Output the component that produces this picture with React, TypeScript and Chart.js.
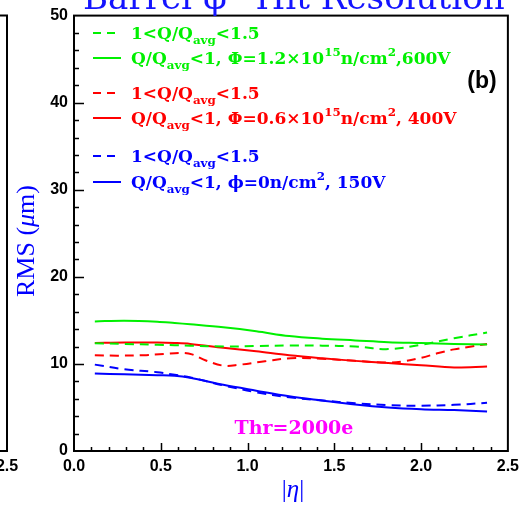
import React, { useEffect, useRef } from "react";
import { Chart, registerables } from "chart.js";
Chart.register(...registerables);

// |eta| sampling grid shared by most curves
const etaGrid = [0.12, 0.29, 0.48, 0.58, 0.67, 0.86, 1.05, 1.24, 1.43, 1.62, 1.81, 2.0, 2.19, 2.38];
const greenSolid = [14.88, 14.96, 14.85, 14.7, 14.55, 14.2, 13.75, 13.2, 12.9, 12.7, 12.5, 12.4, 12.3, 12.22];
const greenDashed = [12.37, 12.3, 12.2, 12.15, 12.1, 12.0, 12.05, 12.12, 12.1, 12.0, 11.7, 12.2, 12.95, 13.6];
const redSolid = [12.4, 12.46, 12.45, 12.4, 12.3, 11.86, 11.45, 11.0, 10.65, 10.35, 10.1, 9.85, 9.6, 9.7];
const blueSolid = [8.9, 8.8, 8.7, 8.64, 8.4, 7.6, 6.93, 6.29, 5.8, 5.34, 5.0, 4.8, 4.7, 4.55];
const blueDashed = [9.92, 9.39, 9.05, 8.75, 8.45, 7.54, 6.74, 6.17, 5.8, 5.49, 5.27, 5.2, 5.3, 5.53];
const etaRedDashed = [0.12, 0.25, 0.4, 0.52, 0.62, 0.68, 0.76, 0.86, 0.95, 1.1, 1.25, 1.43, 1.62, 1.81, 1.9, 2.0, 2.1, 2.19, 2.29, 2.38];
const redDashed = [11.0, 10.95, 11.0, 11.15, 11.27, 11.1, 10.4, 9.8, 9.9, 10.3, 10.65, 10.6, 10.35, 10.15, 10.3, 10.7, 11.25, 11.67, 12.0, 12.3];

const xMin = 0, xMax = 2.5, xMajor = 0.5, xMinor = 0.1;
const yMin = 0, yMax = 50, yMajor = 10, yMinor = 2;

const GREEN = "#00f000";
const RED = "#ff0000";
const BLUE = "#0000ff";
const MAGENTA = "#ff00ff";

type Seg = { t: string; k?: "sub" | "sup" | "it" };

const titleText = "Barrel \u03c6\u2212Hit Resolution";
const thrText = "Thr=2000e";
const panelText = "(b)";
const yTitleSegs: Seg[] = [{ t: "RMS (" }, { t: "\u03bc", k: "it" }, { t: "m)" }];
const xTitleSegs: Seg[] = [{ t: "|" }, { t: "\u03b7", k: "it" }, { t: "|" }];

const legendEntries: { color: string; dashed: boolean; segs: Seg[] }[] = [
  { color: GREEN, dashed: true, segs: [{ t: "1<Q/Q" }, { t: "avg", k: "sub" }, { t: "<1.5" }] },
  { color: GREEN, dashed: false, segs: [{ t: "Q/Q" }, { t: "avg", k: "sub" }, { t: "<1, \u03a6=1.2\u00d710" }, { t: "15", k: "sup" }, { t: "n/cm" }, { t: "2", k: "sup" }, { t: ",600V" }] },
  { color: RED, dashed: true, segs: [{ t: "1<Q/Q" }, { t: "avg", k: "sub" }, { t: "<1.5" }] },
  { color: RED, dashed: false, segs: [{ t: "Q/Q" }, { t: "avg", k: "sub" }, { t: "<1, \u03a6=0.6\u00d710" }, { t: "15", k: "sup" }, { t: "n/cm" }, { t: "2", k: "sup" }, { t: ", 400V" }] },
  { color: BLUE, dashed: true, segs: [{ t: "1<Q/Q" }, { t: "avg", k: "sub" }, { t: "<1.5" }] },
  { color: BLUE, dashed: false, segs: [{ t: "Q/Q" }, { t: "avg", k: "sub" }, { t: "<1, \u03d5=0n/cm" }, { t: "2", k: "sup" }, { t: ", 150V" }] },
];
const legendY = [33, 58, 93, 118, 156, 182];

function setFont(ctx: CanvasRenderingContext2D, s: Seg, size: number, family: string, weight: string) {
  const small = s.k === "sub" || s.k === "sup";
  const sz = small ? size * 0.7 : size;
  ctx.font = `${s.k === "it" ? "italic " : ""}${weight} ${sz}px ${family}`;
}
function measureRich(ctx: CanvasRenderingContext2D, segs: Seg[], size: number, family: string, weight: string) {
  let w = 0;
  for (const s of segs) {
    setFont(ctx, s, size, family, weight);
    w += ctx.measureText(s.t).width;
  }
  return w;
}
function drawRich(ctx: CanvasRenderingContext2D, segs: Seg[], x: number, y: number, size: number, family: string, weight: string) {
  let cx = x;
  for (const s of segs) {
    setFont(ctx, s, size, family, weight);
    const dy = s.k === "sub" ? size * 0.3 : s.k === "sup" ? -size * 0.45 : 0;
    ctx.fillText(s.t, cx, y + dy);
    cx += ctx.measureText(s.t).width;
  }
}

const TICK_FONT = "'Liberation Sans', Arial, sans-serif";

const decor = {
  id: "decor",
  afterDraw(chart: any) {
    const ctx: CanvasRenderingContext2D = chart.ctx;
    const { left, right, top, bottom } = chart.chartArea;
    const xs = chart.scales.x;
    const ys = chart.scales.y;
    ctx.save();
    ctx.textAlign = "left";
    ctx.textBaseline = "alphabetic";

    // neighbouring panel remnant
    ctx.strokeStyle = "#000";
    ctx.lineWidth = 2;
    ctx.beginPath();
    ctx.moveTo(0, top);
    ctx.lineTo(7, top);
    ctx.lineTo(7, bottom);
    ctx.lineTo(0, bottom);
    ctx.stroke();
    ctx.fillStyle = "#000";
    ctx.font = `bold 16px ${TICK_FONT}`;
    ctx.textAlign = "center";
    ctx.fillText("2.5", 7, 471);

    // frame
    ctx.strokeRect(left, top, right - left, bottom - top);

    // ticks
    ctx.lineWidth = 1.5;
    ctx.beginPath();
    for (let v = yMin + yMinor; v < yMax - 1e-9; v += yMinor) {
      const py = Math.round(ys.getPixelForValue(v)) + 0.5;
      const major = Math.abs(v / yMajor - Math.round(v / yMajor)) < 1e-6;
      ctx.moveTo(left, py);
      ctx.lineTo(left + (major ? 10 : 5), py);
    }
    for (let v = xMin + xMinor; v < xMax - 1e-9; v += xMinor) {
      const px = Math.round(xs.getPixelForValue(v)) + 0.5;
      const major = Math.abs(v / xMajor - Math.round(v / xMajor)) < 1e-6;
      ctx.moveTo(px, bottom);
      ctx.lineTo(px, bottom - (major ? 8 : 4));
    }
    ctx.stroke();

    // title (fit to width, clipped at the top)
    ctx.fillStyle = "#1414ff";
    ctx.textAlign = "left";
    ctx.font = "30px 'DejaVu Serif', serif";
    const tw = ctx.measureText(titleText).width;
    const tsize = (30 * 422) / tw;
    ctx.font = `${tsize}px 'DejaVu Serif', serif`;
    ctx.fillText(titleText, 83, 9);

    // legend
    const lf = "'DejaVu Serif', serif";
    for (let i = 0; i < legendEntries.length; i++) {
      const e = legendEntries[i];
      const y = legendY[i];
      ctx.strokeStyle = e.color;
      ctx.lineWidth = 2;
      ctx.setLineDash(e.dashed ? [8, 6] : []);
      ctx.beginPath();
      ctx.moveTo(93, y);
      ctx.lineTo(121, y);
      ctx.stroke();
      ctx.setLineDash([]);
      ctx.fillStyle = e.color;
      drawRich(ctx, e.segs, 131, y + 6, 17, lf, "bold");
    }

    // panel label
    ctx.fillStyle = "#000";
    ctx.font = `bold 23px ${TICK_FONT}`;
    ctx.textAlign = "center";
    ctx.fillText(panelText, 482, 88);

    // threshold label
    ctx.fillStyle = MAGENTA;
    ctx.font = "bold 19px 'DejaVu Serif', serif";
    ctx.fillText(thrText, 294, 434);

    // axis titles
    ctx.textAlign = "left";
    ctx.fillStyle = BLUE;
    const yf = "'Liberation Serif', 'Times New Roman', serif";
    const yw = measureRich(ctx, yTitleSegs, 26, yf, "normal");
    ctx.save();
    ctx.translate(34, 241);
    ctx.rotate(-Math.PI / 2);
    drawRich(ctx, yTitleSegs, -yw / 2, 0, 26, yf, "normal");
    ctx.restore();
    const xw = measureRich(ctx, xTitleSegs, 25, yf, "normal");
    drawRich(ctx, xTitleSegs, 293 - xw / 2, 497, 25, yf, "normal");

    ctx.restore();
  },
};

function pts(xsArr: number[], ysArr: number[]) {
  return xsArr.map((x, i) => ({ x, y: ysArr[i] }));
}

export default function App() {
  const ref = useRef<HTMLCanvasElement | null>(null);
  useEffect(() => {
    if (!ref.current) return;
    const mk = (label: string, data: { x: number; y: number }[], color: string, dashed: boolean) => ({
      label,
      data,
      borderColor: color,
      backgroundColor: color,
      borderWidth: 2,
      borderDash: dashed ? [9, 6] : [],
      pointRadius: 0,
      tension: 0.35,
      fill: false,
    });
    const chart = new Chart(ref.current, {
      type: "line",
      data: {
        datasets: [
          mk("green dashed", pts(etaGrid, greenDashed), GREEN, true),
          mk("green solid", pts(etaGrid, greenSolid), GREEN, false),
          mk("red dashed", pts(etaRedDashed, redDashed), RED, true),
          mk("red solid", pts(etaGrid, redSolid), RED, false),
          mk("blue dashed", pts(etaGrid, blueDashed), BLUE, true),
          mk("blue solid", pts(etaGrid, blueSolid), BLUE, false),
        ],
      },
      options: {
        responsive: false,
        animation: false,
        layout: { padding: { top: 13, right: 13, left: 0, bottom: 0 } },
        plugins: { legend: { display: false }, tooltip: { enabled: false }, title: { display: false } },
        scales: {
          x: {
            type: "linear",
            min: xMin,
            max: xMax,
            grid: { display: false, drawTicks: false },
            border: { display: false },
            ticks: {
              stepSize: xMajor,
              color: "#000",
              padding: 6,
              maxRotation: 0,
              font: { family: TICK_FONT, weight: "bold", size: 16 },
              callback: (v: any) => Number(v).toFixed(1),
            },
            afterFit: (s: any) => {
              s.height = 56;
            },
          },
          y: {
            type: "linear",
            min: yMin,
            max: yMax,
            grid: { display: false, drawTicks: false },
            border: { display: false },
            ticks: {
              stepSize: yMajor,
              color: "#000",
              padding: 6,
              font: { family: TICK_FONT, weight: "bold", size: 16 },
            },
            afterFit: (s: any) => {
              s.width = 74;
            },
          },
        },
      } as any,
      plugins: [decor],
    });
    return () => chart.destroy();
  }, []);
  return (
    <div style={{ position: "absolute", left: 0, top: 0, width: 525, height: 507, background: "#fff" }}>
      <canvas ref={ref} width={525} height={507} style={{ display: "block" }} />
    </div>
  );
}
